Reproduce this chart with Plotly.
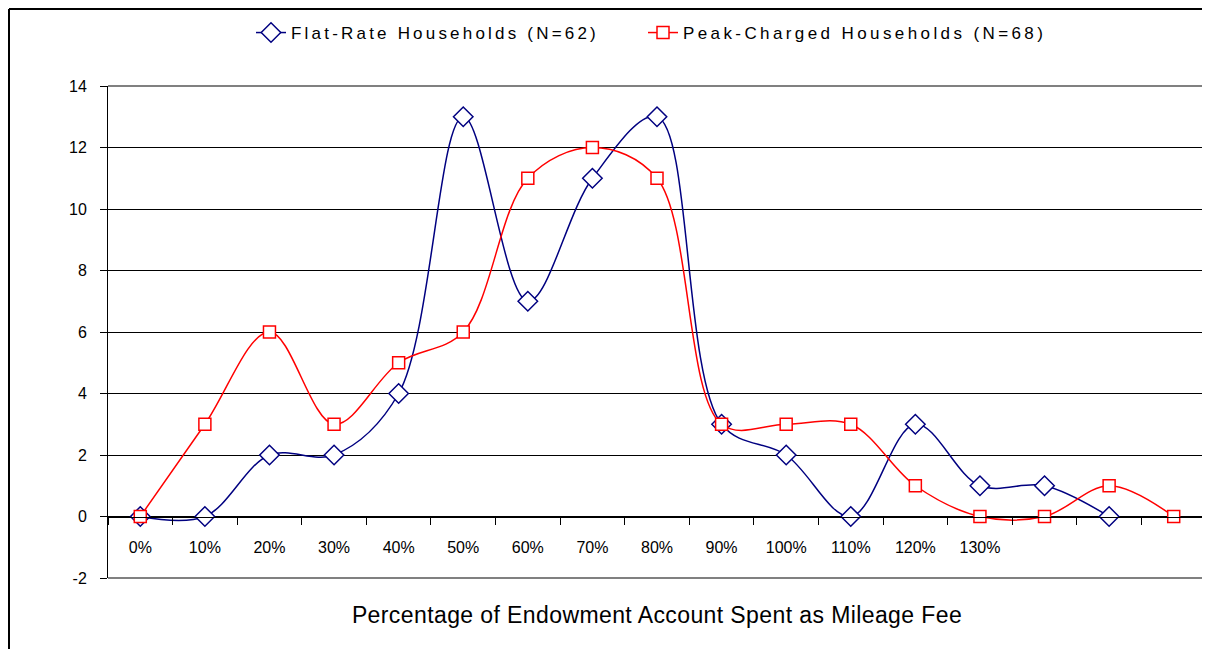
import plotly.graph_objects as go

categories = ["0%", "10%", "20%", "30%", "40%", "50%", "60%", "70%", "80%",
              "90%", "100%", "110%", "120%", "130%", "140%", "150%", "160%"]
tick_labels = ["0%", "10%", "20%", "30%", "40%", "50%", "60%", "70%", "80%",
               "90%", "100%", "110%", "120%", "130%", "", "", ""]
y_ticks = [-2, 0, 2, 4, 6, 8, 10, 12, 14]
y_tick_labels = ["-2", "0", "2", "4", "6", "8", "10", "12", "14"]
flat_rate = [0, 0, 2, 2, 4, 13, 7, 11, 13, 3, 2, 0, 3, 1, 1, 0]
peak_charged = [0, 3, 6, 3, 5, 6, 11, 12, 11, 3, 3, 3, 1, 0, 0, 1, 0]

FONT = "Arial, Liberation Sans, sans-serif"

def spaced(txt, px):
    return f'<span style="letter-spacing:{px}px">{txt}</span>'

fig = go.Figure()
fig.add_trace(go.Scatter(
    x=categories[:len(flat_rate)], y=flat_rate, mode="lines+markers",
    name=spaced("Flat-Rate Households (N=62)", 3.2), legend="legend",
    line=dict(color="#000080", width=1.5, shape="spline", smoothing=1.0),
    marker=dict(symbol="diamond", size=15, color="white",
                line=dict(color="#000080", width=1.5)),
))
fig.add_trace(go.Scatter(
    x=categories, y=peak_charged, mode="lines+markers",
    name=spaced("Peak-Charged Households (N=68)", 3.4), legend="legend2",
    line=dict(color="#FF0000", width=1.5, shape="spline", smoothing=1.0),
    marker=dict(symbol="square", size=12, color="white",
                line=dict(color="#FF0000", width=1.5)),
))

# page has an 8px body margin; figure coords = page coords - 8
OFF = 8
W, H = 1210 - OFF, 649 - OFF
L, R, T, B = 108 - OFF, 4, 86 - OFF, 649 - 578
pw, ph = W - L - R, H - T - B

def px_x(x):  # page pixel -> paper fraction
    return (x - OFF - L) / pw

def px_y(y):
    return (H - B - (y - OFF)) / ph

shapes = [
    dict(type="line", xref="paper", yref="paper", x0=0, x1=1, y0=1, y1=1,
         line=dict(color="#808080", width=2), layer="above"),
    dict(type="line", xref="paper", yref="paper", x0=1, x1=1, y0=0, y1=1,
         line=dict(color="#808080", width=2), layer="above"),
    dict(type="line", xref="paper", yref="paper", x0=0, x1=1, y0=0, y1=0,
         line=dict(color="#808080", width=2), layer="above"),
    dict(type="line", xref="paper", yref="paper", x0=px_x(9), x1=px_x(9),
         y0=px_y(9), y1=px_y(660), line=dict(color="black", width=2), layer="above"),
    dict(type="line", xref="paper", yref="paper", x0=px_x(9), x1=px_x(1220),
         y0=px_y(9), y1=px_y(9), line=dict(color="black", width=2), layer="above"),
]

legend_common = dict(orientation="h", xanchor="left", yanchor="middle",
                     font=dict(size=17), bgcolor="rgba(0,0,0,0)")

fig.update_layout(
    width=W, height=H,
    margin=dict(l=L, r=R, t=T, b=B),
    paper_bgcolor="white", plot_bgcolor="white",
    font=dict(family=FONT, size=16, color="black"),
    showlegend=True,
    legend=dict(x=px_x(251), y=px_y(33), **legend_common),
    legend2=dict(x=px_x(643), y=px_y(33), **legend_common),
    shapes=shapes,
    xaxis=dict(
        type="category", categoryorder="array", categoryarray=categories,
        tickmode="array", tickvals=categories, ticktext=tick_labels,
        range=[-0.5, 16.5], tickson="boundaries",
        anchor="free", position=2 / 16,
        showline=True, linecolor="black", linewidth=1,
        ticks="outside", ticklen=7, tickcolor="black",
        showgrid=False, zeroline=False,
        tickfont=dict(size=16), ticklabelstandoff=16,
        title=dict(text=spaced("Percentage of Endowment Account Spent as Mileage Fee", 0.4),
                   font=dict(size=23), standoff=52),
    ),
    yaxis=dict(
        range=[-2, 14], tickmode="array", tickvals=y_ticks, ticktext=y_tick_labels,
        showline=True, linecolor="black", linewidth=1,
        ticks="outside", ticklen=7, tickcolor="black",
        showgrid=True, gridcolor="black", gridwidth=1,
        zeroline=False, tickfont=dict(size=16), ticklabelstandoff=10,
    ),
)

fig.write_html("out.html")
